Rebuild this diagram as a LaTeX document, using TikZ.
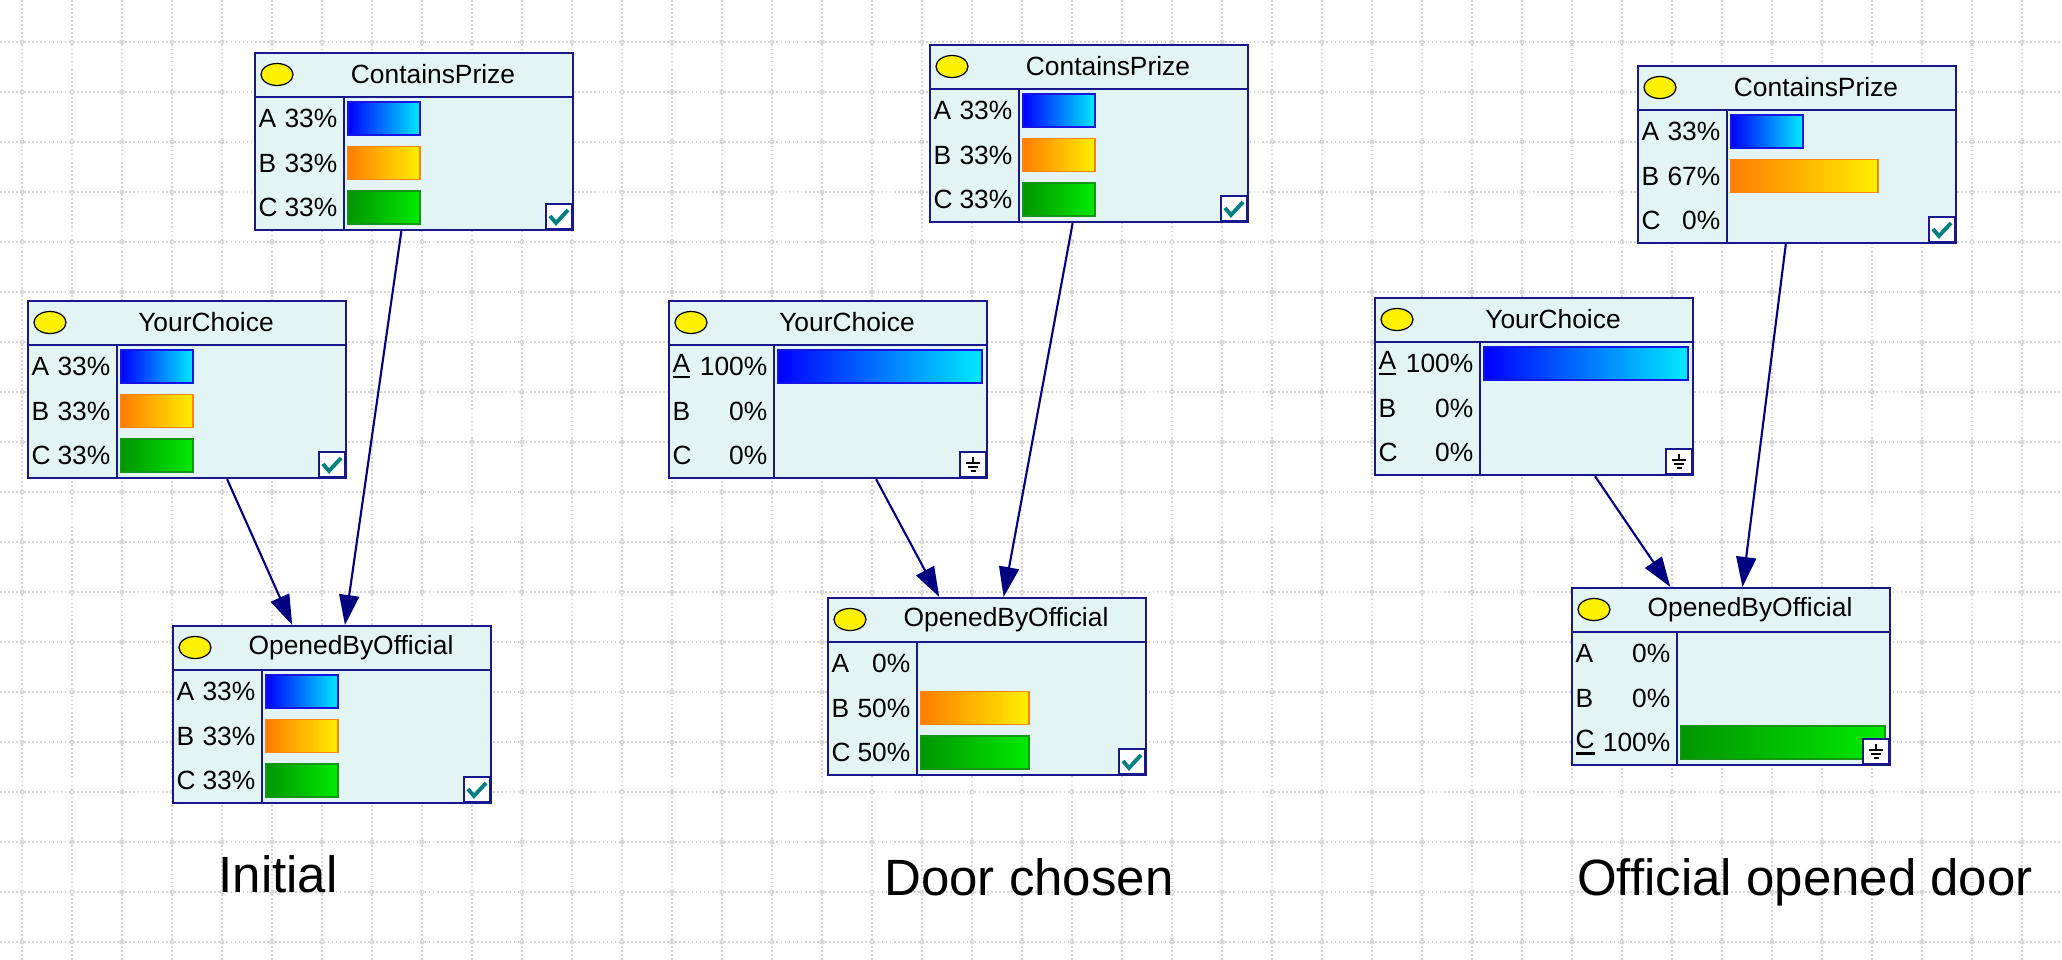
\documentclass[tikz,border=0pt]{standalone}
\usepackage{fontspec}
\setmainfont{Liberation Sans}
\usetikzlibrary{arrows.meta}

\definecolor{netblue}{RGB}{24,24,140}
\definecolor{arrowblue}{RGB}{0,0,128}
\definecolor{nodefill}{RGB}{227,244,244}
\definecolor{tickteal}{RGB}{0,128,128}
\definecolor{barl1}{RGB}{0,0,255}
\definecolor{barr1}{RGB}{0,235,255}
\definecolor{bard1}{RGB}{20,20,230}
\definecolor{barl2}{RGB}{255,125,0}
\definecolor{barr2}{RGB}{255,240,0}
\definecolor{bard2}{RGB}{255,130,20}
\definecolor{barl3}{RGB}{0,150,0}
\definecolor{barr3}{RGB}{0,235,0}
\definecolor{bard3}{RGB}{20,150,20}

% node box: name, left, top, state column, title, rows, corner mark
\newcommand{\bnnode}[7]{
  \node[bnbox,anchor=north west] (#1) at (#2,#3) {};
  \begin{scope}[shift={(#2,#3)}]
    \draw[bnline] (0,45) -- (318,45) (#4,45) -- (#4,177);
    \draw[state] (23,22.5) ellipse (0.16cm and 0.11cm);
    \node[bntitle] at (179,22.5) {#5};
    \foreach \s/\p/\w [count=\i] in {#6} {
      \node[bnlabel,anchor=west] at (4,\i*44.5+22) {\s};
      \node[bnlabel,anchor=east] at (#4-6,\i*44.5+22) {\p};
      \ifnum\w>0
        \shadedraw[left color=barl\i,right color=barr\i,draw=bard\i,line width=0.5pt] (#4+4,\i*44.5+5.5) rectangle ++(\w,33);
      \fi
    }
    \draw[bnline,fill=white] (292,152) rectangle (318,177);
    #7
  \end{scope}
}
\newcommand{\okmark}{\draw[tickline] (296,164) -- (302,171) -- (314,158);}
\newcommand{\groundmark}{\draw[black,line width=0.4pt] (305,157) -- (305,163) (298,163) -- (312,163) (300,167) -- (310,167) (302.5,171) -- (307.5,171);}
% evidence state, underlined
\newcommand{\evid}[1]{\setbox0\hbox{#1}\rlap{\rule[-0.22em]{\wd0}{0.65pt}}#1}

\begin{document}
\begin{tikzpicture}[x=0.01cm,y=-0.01cm]
  \tikzstyle{gridline}=[draw=black!17,line width=0.35pt,dash pattern=on 0.5pt off 0.65pt]
  \tikzstyle{gridmark}=[draw=black!15,line width=0.3pt]
  \tikzset{bnbox/.style = {rectangle,draw=netblue,fill=nodefill,line width=0.6pt,
      minimum width=3.18cm,minimum height=1.77cm,inner sep=0pt}}
  \tikzset{bnline/.style = {draw=netblue,line width=0.6pt}}
  \tikzset{state/.style = {draw=black,fill=yellow,line width=0.35pt}}
  \tikzset{bntitle/.style = {inner sep=0pt,font=\fontsize{7.5}{8.5}\selectfont}}
  \tikzset{bnlabel/.style = {inner sep=0pt,font=\fontsize{7.5}{8.5}\selectfont}}
  \tikzset{tickline/.style = {draw=tickteal,line width=1.1pt}}
  \tikzset{edge/.style = {-{Triangle[length=0.3cm,width=0.2cm]},draw=arrowblue,line width=0.6pt}}
  \tikzset{caption/.style = {anchor=base,inner sep=0pt,font=\fontsize{14.5}{17}\selectfont}}

  \fill[white] (0,0) rectangle (2062,960);
  \useasboundingbox (0,0) rectangle (2062,960);

  % dotted grid of the editor
  \foreach \gx in {22,72,...,2022} \draw[gridline] (\gx,0) -- (\gx,960);
  \foreach \gy in {42,92,...,942} \draw[gridline] (0,\gy) -- (2062,\gy);
  \foreach \gx in {22,72,...,2022}
    \foreach \gy in {42,92,...,942}
      \draw[gridmark] (\gx,\gy) circle (0.02cm);

  % initial
  \bnnode{cp1}{254}{52}{90}{ContainsPrize}{A/33\%/72, B/33\%/72, C/33\%/72}{\okmark}
  \bnnode{yc1}{27}{300}{90}{YourChoice}{A/33\%/72, B/33\%/72, C/33\%/72}{\okmark}
  \bnnode{obo1}{172}{625}{90}{OpenedByOfficial}{A/33\%/72, B/33\%/72, C/33\%/72}{\okmark}
  \draw[edge] (yc1) -- (obo1);
  \draw[edge] (cp1) -- (obo1);

  % door chosen
  \bnnode{cp2}{929}{44}{90}{ContainsPrize}{A/33\%/72, B/33\%/72, C/33\%/72}{\okmark}
  \bnnode{yc2}{668}{300}{106}{YourChoice}{\evid{A}/100\%/204, B/0\%/0, C/0\%/0}{\groundmark}
  \bnnode{obo2}{827}{597}{90}{OpenedByOfficial}{A/0\%/0, B/50\%/108, C/50\%/108}{\okmark}
  \draw[edge] (yc2) -- (obo2);
  \draw[edge] (cp2) -- (obo2);

  % official opened door
  \bnnode{cp3}{1637}{65}{90}{ContainsPrize}{A/33\%/72, B/67\%/147, C/0\%/0}{\okmark}
  \bnnode{yc3}{1374}{297}{106}{YourChoice}{\evid{A}/100\%/204, B/0\%/0, C/0\%/0}{\groundmark}
  \bnnode{obo3}{1571}{587}{106}{OpenedByOfficial}{A/0\%/0, B/0\%/0, \evid{C}/100\%/204}{\groundmark}
  \draw[edge] (yc3) -- (obo3);
  \draw[edge] (cp3) -- (obo3);

  \node[caption] (lab1) at (278,892) {Initial};
  \node[caption] (lab2) at (1029,895) {Door chosen};
  \node[caption] (lab3) at (1805,895) {Official opened door};
\end{tikzpicture}
\end{document}
